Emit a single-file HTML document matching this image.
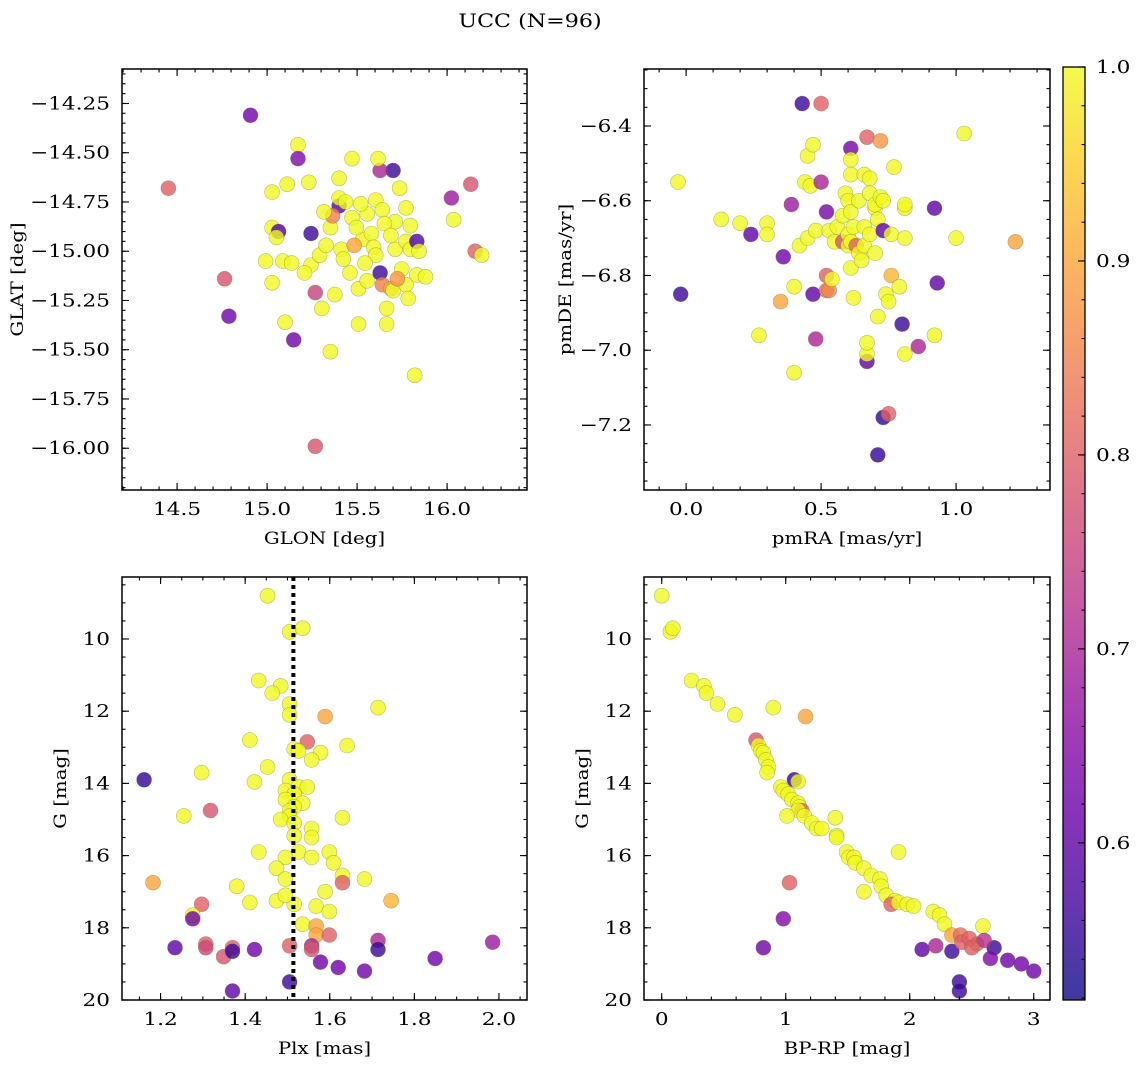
<!DOCTYPE html>
<html><head><meta charset="utf-8"><title>UCC (N=96)</title>
<style>
html,body{margin:0;padding:0;background:#fff;}
svg{display:block;font-family:"DejaVu Serif","Liberation Serif",serif;}
</style></head>
<body>
<svg id="fig" width="1136" height="1067" viewBox="0 0 1136 1067" xmlns="http://www.w3.org/2000/svg">
<rect width="1136" height="1067" fill="#fff"/>
<text font-size="18.5" text-anchor="middle" transform="translate(530,27) scale(1.2,1)">UCC (N=96)</text>
</svg>
<script>
// ---- Panel 1 data: GLON / GLAT / membership probability ----
const p1Glon = [14.908,14.452,15.172,15.172,15.70,16.132,16.024,16.036,16.156,16.192,15.028,15.112,15.232,15.40,15.472,15.028,15.064,15.052,14.992,15.088,15.136,15.028,15.10,15.148,14.764,14.788,15.268,15.352,15.304,15.268,15.244,15.244,15.208,15.292,15.328,15.352,15.40,15.40,15.436,15.472,15.532,15.58,15.592,15.604,15.628,15.64,15.688,15.70,15.748,15.712,15.772,15.796,15.832,15.844,15.712,15.772,15.736,15.628,15.616,15.604,15.64,15.556,15.496,15.412,15.46,15.508,15.772,15.784,15.664,15.832,15.88,15.508,15.664,15.82,15.364,15.52,15.652,15.424,15.544,15.796,15.724,15.376,15.316,15.688,15.484,15.556];
const p1Glat = [-14.31,-14.68,-14.46,-14.53,-14.59,-14.66,-14.73,-14.84,-15.00,-15.02,-14.70,-14.66,-14.65,-14.63,-14.53,-14.88,-14.90,-14.93,-15.05,-15.05,-15.06,-15.16,-15.36,-15.45,-15.14,-15.33,-15.99,-15.51,-15.29,-15.21,-14.91,-15.07,-15.11,-15.02,-14.97,-14.88,-14.77,-14.73,-14.75,-14.83,-14.94,-14.91,-14.98,-15.02,-15.11,-15.17,-15.19,-15.20,-15.09,-14.99,-14.95,-14.99,-14.95,-15.00,-14.85,-14.78,-14.68,-14.59,-14.53,-14.74,-14.79,-14.81,-14.88,-14.99,-15.11,-15.19,-15.17,-15.24,-15.29,-15.12,-15.13,-15.37,-15.37,-15.63,-14.82,-14.76,-14.86,-15.04,-15.06,-14.87,-15.14,-15.22,-14.80,-14.92,-14.97,-15.15];
const p1Prob = [0.62,0.80,1,0.64,0.56,0.78,0.68,1,0.80,1,1,1,1,1,1,1,0.58,1,1,1,1,1,1,0.62,0.78,0.62,0.78,1,1,0.75,0.56,1,1,1,1,1,0.58,1,1,1,1,1,1,1,0.56,0.85,0.9,1,1,1,1,1,0.58,1,1,1,1,0.70,1,1,1,1,1,1,1,1,1,1,1,1,1,1,1,1,0.85,1,1,1,1,1,0.88,1,1,1,0.9,1];
const p1XTicks = [14.5,15.0,15.5,16.0];
const p1XLabels = ["14.5","15.0","15.5","16.0"];
const p1YTicks = [-14.25,-14.5,-14.75,-15.0,-15.25,-15.5,-15.75,-16.0];
const p1YLabels = ["\u221214.25","\u221214.50","\u221214.75","\u221215.00","\u221215.25","\u221215.50","\u221215.75","\u221216.00"];

// ---- Panel 2 data: pmRA / pmDE ----
const p2Pmra = [0.43,0.50,-0.03,-0.02,0.13,0.20,0.24,0.30,0.30,0.27,0.36,0.35,0.40,0.40,0.39,0.42,0.45,0.44,0.45,0.46,0.48,0.47,0.50,0.52,0.47,0.48,0.52,0.52,0.53,0.54,0.53,0.56,0.55,0.58,0.58,0.59,0.60,0.60,0.61,0.61,0.61,0.60,0.61,0.62,0.61,0.61,0.62,0.63,0.64,0.64,0.66,0.66,0.66,0.65,0.68,0.67,0.72,0.68,0.68,0.70,0.70,0.71,0.70,0.72,0.73,0.67,0.67,0.67,0.71,0.73,0.75,0.71,0.73,0.76,0.74,0.75,0.77,0.76,0.80,0.79,0.81,0.81,0.81,0.81,0.92,0.93,0.86,0.92,1.00,1.03,1.22];
const p2Pmde = [-6.34,-6.34,-6.55,-6.85,-6.65,-6.66,-6.69,-6.66,-6.69,-6.96,-6.75,-6.87,-6.83,-7.06,-6.61,-6.72,-6.70,-6.55,-6.48,-6.56,-6.68,-6.45,-6.55,-6.63,-6.85,-6.97,-6.80,-6.84,-6.84,-6.81,-6.68,-6.67,-6.71,-6.64,-6.71,-6.58,-6.69,-6.72,-6.46,-6.49,-6.53,-6.60,-6.63,-6.67,-6.78,-6.71,-6.86,-6.72,-6.74,-6.60,-6.53,-6.67,-6.72,-6.76,-6.69,-6.43,-6.44,-6.58,-6.54,-6.62,-6.61,-6.65,-6.74,-6.59,-6.60,-7.03,-7.01,-6.98,-6.91,-7.18,-7.17,-7.28,-6.68,-6.80,-6.85,-6.87,-6.51,-6.69,-6.93,-6.83,-6.62,-6.61,-6.70,-7.01,-6.62,-6.82,-6.99,-6.96,-6.70,-6.42,-6.71];
const p2Prob = [0.56,0.80,1,0.56,1,1,0.60,1,1,1,0.62,0.90,1,1,0.68,1,1,1,1,1,1,1,0.70,0.63,0.60,0.70,0.80,0.82,0.86,1,1,1,1,1,0.78,1,1,1,0.63,1,1,1,1,1,1,1,1,0.80,1,1,1,1,1,1,1,0.80,0.88,1,1,1,1,1,1,1,1,0.60,1,1,1,0.55,0.80,0.55,0.60,0.92,1,1,1,1,0.56,1,1,1,1,1,0.60,0.60,0.70,1,1,1,0.90];
const p2XTicks = [0.0,0.5,1.0];
const p2XLabels = ["0.0","0.5","1.0"];
const p2YTicks = [-6.4,-6.6,-6.8,-7.0,-7.2];
const p2YLabels = ["\u22126.4","\u22126.6","\u22126.8","\u22127.0","\u22127.2"];

// ---- Panel 3 data: Plx / G ----
const p3Plx = [1.453,1.505,1.536,1.432,1.484,1.464,1.505,1.505,1.589,1.714,1.411,1.547,1.516,1.526,1.578,1.641,1.297,1.161,1.453,1.557,1.422,1.505,1.495,1.526,1.547,1.516,1.495,1.536,1.516,1.505,1.318,1.255,1.505,1.484,1.516,1.557,1.557,1.630,1.516,1.432,1.526,1.495,1.557,1.474,1.599,1.609,1.630,1.682,1.630,1.182,1.495,1.380,1.589,1.474,1.516,1.411,1.495,1.745,1.568,1.297,1.276,1.276,1.599,1.536,1.568,1.568,1.599,1.234,1.307,1.307,1.349,1.370,1.370,1.422,1.505,1.557,1.557,1.578,1.620,1.682,1.714,1.714,1.849,1.985,1.505,1.370];
const p3G = [8.8,9.8,9.7,11.15,11.3,11.5,11.8,12.1,12.15,11.9,12.8,12.85,13.05,13.1,13.15,12.95,13.7,13.9,13.55,13.35,13.96,13.9,14.2,14.1,14.1,14.3,14.45,14.55,14.65,14.75,14.75,14.9,14.9,15.0,15.1,15.25,15.5,14.95,15.45,15.9,15.9,16.05,16.05,16.35,15.9,16.2,16.55,16.65,16.75,16.75,16.65,16.85,17.0,17.25,17.35,17.3,17.1,17.25,17.4,17.35,17.65,17.75,17.55,17.9,17.95,18.2,18.2,18.55,18.45,18.55,18.8,18.55,18.65,18.6,18.5,18.5,18.6,18.95,19.1,19.2,18.35,18.6,18.85,18.4,19.5,19.75];
const p3Prob = [1,1,1,1,1,1,1,1,0.90,1,1,0.80,1,1,1,1,1,0.55,1,1,1,1,1,1,1,1,1,1,1,1,0.78,1,1,1,1,1,1,1,1,1,1,1,1,1,1,1,1,1,0.80,0.90,1,1,1,1,1,1,1,0.92,1,0.80,1,0.62,1,1,0.90,0.90,0.80,0.60,0.80,0.76,0.78,0.80,0.56,0.62,0.80,0.70,0.78,0.62,0.62,0.62,0.70,0.56,0.62,0.68,0.56,0.60];
const p3XTicks = [1.2,1.4,1.6,1.8,2.0];
const p3XLabels = ["1.2","1.4","1.6","1.8","2.0"];
const gTicks = [10,12,14,16,18,20];
const gLabels = ["10","12","14","16","18","20"];
const plxMedian = [1.514];

// ---- Panel 4 data: BP-RP / G ----
const p4Bprp = [0.0,0.07,0.09,0.24,0.34,0.36,0.45,0.59,1.16,0.90,0.76,0.78,0.80,0.82,0.84,0.86,0.85,1.07,1.10,0.96,0.98,1.02,1.05,1.10,1.11,1.13,1.10,1.01,1.15,1.40,1.21,1.25,1.29,1.41,1.41,1.49,1.51,1.55,1.56,1.63,1.91,1.69,1.76,1.63,1.77,1.03,1.81,1.88,1.85,1.91,1.98,2.03,2.19,2.24,2.28,2.59,2.34,2.41,0.98,0.82,2.10,2.21,2.34,2.42,2.54,2.48,2.68,2.60,2.79,2.90,3.00,2.40,2.40,2.50,2.65];
const p4G = [8.8,9.8,9.7,11.15,11.3,11.5,11.8,12.1,12.15,11.9,12.8,12.95,13.1,13.15,13.35,13.55,13.7,13.9,13.95,14.1,14.2,14.3,14.45,14.55,14.65,14.75,14.75,14.9,14.9,14.95,15.1,15.25,15.25,15.45,15.5,15.9,16.05,16.05,16.2,16.35,15.9,16.55,16.65,17.0,16.85,16.75,17.1,17.25,17.35,17.3,17.35,17.4,17.55,17.65,17.9,17.95,18.2,18.2,17.75,18.55,18.6,18.5,18.65,18.4,18.45,18.3,18.55,18.35,18.9,19.0,19.2,19.5,19.75,18.55,18.85];
const p4Prob = [1,1,1,1,1,1,1,1,0.90,1,0.78,1,1,1,1,1,1,0.55,1,1,1,1,1,1,1,0.80,1,1,1,1,1,1,1,1,1,1,1,1,1,1,1,1,1,1,1,0.80,1,1,0.80,1,1,1,1,1,1,1,0.90,0.82,0.64,0.62,0.60,0.70,0.56,0.80,0.82,0.80,0.56,0.72,0.62,0.62,0.62,0.56,0.56,0.80,0.64];
const p4XTicks = [0,1,2,3];
const p4XLabels = ["0","1","2","3"];

// ---- Colorbar ----
const cbTicks = [0.6,0.7,0.8,0.9,1.0];
const cbLabels = ["0.6","0.7","0.8","0.9","1.0"];
const vMin = 0.519, vMax = 1.0;

const NS = "http://www.w3.org/2000/svg";
const svg = document.getElementById('fig');
const plasma = [[13,8,135],[65,4,157],[106,0,168],[143,13,164],[177,42,144],[204,71,120],[225,100,98],[242,132,75],[252,166,54],[252,206,37],[240,249,33]];
function cmap(v){
  let t = (v - vMin) / (vMax - vMin); t = Math.max(0, Math.min(1, t));
  const f = t * 10, i = Math.min(9, Math.floor(f)), r = f - i;
  const a = plasma[i], b = plasma[i+1];
  return 'rgb(' + [0,1,2].map(k => Math.round(a[k] + (b[k]-a[k]) * r)).join(',') + ')';
}
function mk(tag, attrs, parent){
  const e = document.createElementNS(NS, tag);
  for (const k in attrs) e.setAttribute(k, attrs[k]);
  (parent || svg).appendChild(e);
  return e;
}
function txt(parent, x, y, size, anchor, content, rot){
  const t = mk('text', {x:0, y:0, 'font-size':size, 'text-anchor':anchor,
    transform:'translate('+x+','+y+')' + (rot ? ' rotate(-90)' : '') + ' scale(1.2,1)'}, parent);
  t.textContent = content;
  return t;
}
function range(a, b, s){ const out=[]; for(let v=a; v<=b+1e-9; v+=s) out.push(Math.round(v*1000)/1000); return out; }

function panel(cfg){
  const g = mk('g', {});
  
  
  const L=cfg.box[0], T=cfg.box[1], R=cfg.box[2], B=cfg.box[3];
  const sx = v => L + (v - cfg.xr[0]) / (cfg.xr[1] - cfg.xr[0]) * (R - L);
  const sy = v => cfg.yinv ? T + (v - cfg.yr[0]) / (cfg.yr[1] - cfg.yr[0]) * (B - T)
                           : B - (v - cfg.yr[0]) / (cfg.yr[1] - cfg.yr[0]) * (B - T);
  const pg = mk('g', {}, g);
  
  
  for (let i = 0; i < cfg.xs.length; i++){
    const c = mk('circle', {cx: sx(cfg.xs[i]).toFixed(1), cy: sy(cfg.ys[i]).toFixed(1), r: 7.5, fill: cmap(cfg.ps[i]), 'fill-opacity': 0.8, stroke: '#6b6b3a', 'stroke-opacity': 0.45, 'stroke-width': 0.6}, pg);
    
    
  }
  if (cfg.vline){
    const ln = mk('line', {x1: sx(cfg.vline[0]), x2: sx(cfg.vline[0]), y1: T, y2: B, stroke: '#000', 'stroke-width': 4, 'stroke-dasharray': '4,4'}, g);
    
    
  }
  const tk = mk('g', {stroke: '#000', 'stroke-width': 1.1}, g);
  
  
  cfg.xminor.forEach(v => { const x = sx(v); if (x < L || x > R) return;
    mk('line', {x1:x,x2:x,y1:B,y2:B-3.5}, tk); mk('line', {x1:x,x2:x,y1:T,y2:T+3.5}, tk); });
  cfg.yminor.forEach(v => { const y = sy(v); if (y < T || y > B) return;
    mk('line', {x1:L,x2:L+3.5,y1:y,y2:y}, tk); mk('line', {x1:R,x2:R-3.5,y1:y,y2:y}, tk); });
  cfg.xticks.forEach((v, i) => { const x = sx(v);
    mk('line', {x1:x,x2:x,y1:B,y2:B-7}, tk); mk('line', {x1:x,x2:x,y1:T,y2:T+7}, tk);
    const t = txt(g, x, B+25, 18, 'middle', cfg.xlabels[i]);
      });
  cfg.yticks.forEach((v, i) => { const y = sy(v);
    mk('line', {x1:L,x2:L+7,y1:y,y2:y}, tk); mk('line', {x1:R,x2:R-7,y1:y,y2:y}, tk);
    const t = txt(g, L-12, y+6, 18, 'end', cfg.ylabels[i]);
      });
  const fr = mk('rect', {x:L, y:T, width:R-L, height:B-T, fill:'none', stroke:'#000', 'stroke-width':1.5}, g);
   
  const xl = txt(g, (L+R)/2, B+54, 16.5, 'middle', cfg.xtitle);
   
  const yl = txt(g, cfg.ytitleX, (T+B)/2, 16.5, 'middle', cfg.ytitle, true);
   
}

panel({name:'glon-glat-panel', box:[122,69,527,490], xr:[14.194,16.444], yr:[-16.212,-14.075], yinv:false,
  xs:p1Glon, ys:p1Glat, ps:p1Prob, xticks:p1XTicks, xlabels:p1XLabels, yticks:p1YTicks, ylabels:p1YLabels,
  xminor:range(14.2,16.4,0.1), yminor:range(-16.2,-14.1,0.05), xtitle:'GLON [deg]', ytitle:'GLAT [deg]', ytitleX:23});
panel({name:'pmra-pmde-panel', box:[644,69,1050,490], xr:[-0.156,1.348], yr:[-7.374,-6.2475], yinv:false,
  xs:p2Pmra, ys:p2Pmde, ps:p2Prob, xticks:p2XTicks, xlabels:p2XLabels, yticks:p2YTicks, ylabels:p2YLabels,
  xminor:range(-0.1,1.3,0.1), yminor:range(-7.35,-6.25,0.05), xtitle:'pmRA [mas/yr]', ytitle:'pmDE [mas/yr]', ytitleX:571});
panel({name:'plx-g-panel', box:[122,577,527,1000], xr:[1.1088,2.0663], yr:[8.283,20.0], yinv:true,
  xs:p3Plx, ys:p3G, ps:p3Prob, xticks:p3XTicks, xlabels:p3XLabels, yticks:gTicks, ylabels:gLabels,
  xminor:range(1.15,2.05,0.05), yminor:range(8.5,20,0.5), xtitle:'Plx [mas]', ytitle:'G [mag]', ytitleX:66, vline:plxMedian});
panel({name:'cmd-panel', box:[644,577,1050,1000], xr:[-0.143,3.131], yr:[8.283,20.0], yinv:true,
  xs:p4Bprp, ys:p4G, ps:p4Prob, xticks:p4XTicks, xlabels:p4XLabels, yticks:gTicks, ylabels:gLabels,
  xminor:range(0,3,0.2), yminor:range(8.5,20,0.5), xtitle:'BP-RP [mag]', ytitle:'G [mag]', ytitleX:588});

(function(){
  const L=1063, R=1085, T=67, B=1000;
  const cy = v => B - (v - vMin) / (vMax - vMin) * (B - T);
  const g = mk('g', {});
  
  
  const defs = mk('defs', {}, g);
  const lg = mk('linearGradient', {id:'cbgrad', x1:0, y1:1, x2:0, y2:0}, defs);
  for (let i = 0; i <= 20; i++){ const t = i/20; mk('stop', {offset:t, 'stop-color':cmap(vMin + t*(vMax-vMin)), 'stop-opacity':0.8}, lg); }
  const r = mk('rect', {x:L, y:T, width:R-L, height:B-T, fill:'url(#cbgrad)', stroke:'#000', 'stroke-width':1.3}, g);
   
  range(0.52, 1.0, 0.02).forEach(v => { const y = cy(v); if (y < T || y > B) return;
    mk('line', {x1:R, x2:R-3.5, y1:y, y2:y, stroke:'#000', 'stroke-width':1.1}, g); });
  cbTicks.forEach((v, i) => { const y = cy(v);
    mk('line', {x1:R, x2:R-7, y1:y, y2:y, stroke:'#000', 'stroke-width':1.1}, g);
    const t = txt(g, R+11, y+6, 18, 'start', cbLabels[i]);
      });
})();
</script>
</body></html>
